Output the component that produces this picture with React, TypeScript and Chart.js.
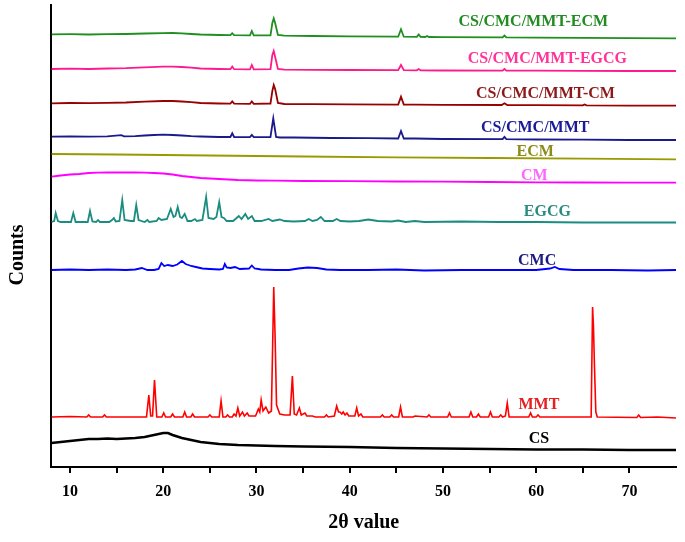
import React, { useEffect, useRef } from "react";
import { Chart, registerables } from "chart.js";

Chart.register(...registerables);

// 2θ range and tick labels
const xMin = 8;
const xMax = 75;
const xTicks = [10, 15, 20, 25, 30, 35, 40, 45, 50, 55, 60, 65, 70];
const xLabelled = [10, 20, 30, 40, 50, 60, 70];

const seriesNames = [
  "CS/CMC/MMT-ECM",
  "CS/CMC/MMT-EGCG",
  "CS/CMC/MMT-CM",
  "CS/CMC/MMT",
  "ECM",
  "CM",
  "EGCG",
  "CMC",
  "MMT",
  "CS",
];

// Stacked patterns (arbitrary counts, offset for display)
const ecmComposite: number[][] = [[8,432.7],[10,432.8],[12,432.5],[14,432.8],[16,433],[18,433.5],[20,433.8],[21,434],[22,433.7],[23,433],[24,432.5],[26,432],[27.2,431.8],[27.4,433.8],[27.6,431.8],[29.3,431.6],[29.5,436],[29.7,431.6],[31.5,431.6],[31.7,444],[31.85,448.7],[32.0,444],[32.3,432],[33,431.3],[36,431],[40,430.7],[45.2,430.3],[45.5,437.7],[45.8,430.3],[47.2,430.1],[47.4,432.5],[47.6,430.1],[48.1,430],[48.3,431],[48.5,430],[50,429.8],[56.4,429.6],[56.6,431.5],[56.8,429.6],[60,429.4],[65,429.2],[70,428.9],[75,428.7]];
const egcgComposite: number[][] = [[8,398],[10,398.3],[12,398],[14,398.5],[16,398.8],[18,399.7],[20,400.3],[21,400.3],[22,400],[23,399.3],[24,398.5],[26,398],[27.2,397.8],[27.4,400.5],[27.6,397.8],[29.3,397.7],[29.5,402],[29.7,397.7],[31.5,397.8],[31.7,412],[31.85,416],[32.0,410],[32.3,398],[33,397.3],[36,397.2],[40,397],[45.2,396.8],[45.5,402],[45.8,396.8],[47.2,396.7],[47.4,398],[47.6,396.7],[50,396.5],[56.4,396.4],[56.6,398],[56.8,396.4],[60,396.3],[65,396.2],[70,396],[75,396]];
const cmComposite: number[][] = [[8,363.7],[10,364],[12,363.8],[14,364.2],[16,364.5],[18,365.3],[20,366],[21,366],[22,365.5],[23,364.8],[24,364],[26,363.5],[27.2,363.3],[27.4,365.5],[27.6,363.3],[29.3,363.2],[29.5,365.5],[29.7,363.2],[31.5,363.5],[31.7,376],[31.85,382],[32.0,378],[32.3,364],[33,363],[36,362.8],[40,362.6],[45.2,362.4],[45.5,370.3],[45.8,362.4],[47,362.3],[50,362.2],[56.3,362],[56.6,363.8],[56.9,362],[60,361.8],[65,361.6],[65.2,362.6],[65.4,361.6],[70,361.4],[75,361.3]];
const csCmcMmt: number[][] = [[8,330.3],[10,330.5],[12,330.3],[14,330.6],[15.5,331.8],[15.8,330.6],[17,330.8],[18,331.5],[19,332],[20,332.3],[21,332],[22,331.5],[23,330.8],[24,330.5],[26,330],[27.2,330],[27.4,333.7],[27.6,330],[29.3,329.8],[29.5,332],[29.7,329.8],[31.5,330],[31.8,348.7],[32.1,330],[32.5,329.5],[34,329.5],[38,329],[42,328.8],[45.2,328.5],[45.5,336],[45.8,328.5],[47,328.5],[50,328],[56.4,327.8],[56.6,330],[56.8,327.8],[60,327.5],[65,327.3],[70,327],[75,327]];
const ecm: number[][] = [[8,313],[15,312.5],[25,311.5],[35,310.5],[45,309.7],[55,309],[65,308.3],[75,307.7]];
const cm: number[][] = [[8,290.3],[9,291.5],[10,292.5],[11,293],[12,294],[13,294.3],[14,294.5],[15,294.5],[16,294.7],[17,294.5],[18,294.3],[19,294],[20,293.5],[21,292.5],[22,291],[23,290],[24,289],[25,288.5],[26,288],[27,287.5],[28,287],[30,286.5],[32,286.3],[35,286],[40,285.8],[45,285.5],[50,285.3],[55,285],[60,284.7],[65,284.5],[70,284.3],[75,284.3]];
const egcg: number[][] = [[8,245],[8.3,246],[8.46,254],[8.7,246],[9,245],[10.1,245],[10.35,254],[10.6,245],[11.9,245],[12.14,256],[12.4,245.5],[12.8,245],[13.0,247],[13.2,245],[14.2,245],[14.5,247],[14.7,249],[14.9,245.5],[15.3,246],[15.6,267],[15.85,247],[16.5,246],[16.85,246],[17.1,262],[17.35,247],[18,245],[18.3,247],[18.5,245],[19.3,246],[19.5,249],[19.8,247],[20.4,248],[20.8,258],[21.1,250],[21.3,251],[21.55,260],[21.8,250],[22.0,249],[22.3,253],[22.6,246],[23,246],[23.4,248],[23.6,246],[24.2,247],[24.6,270],[24.85,249],[25.4,248],[25.7,250],[26.0,265],[26.25,250],[26.5,249],[26.8,246],[27.5,246],[28.1,251],[28.4,248],[28.8,253],[29.1,248],[29.5,251],[29.8,246],[30.5,246],[31.3,248],[31.7,246],[32.5,247.5],[33,246],[34,245.5],[35.2,246],[35.6,248],[36,246],[36.5,247],[36.9,250],[37.3,246],[38.2,246],[38.6,248],[39,246],[40,245.5],[41,246],[42,247.5],[43,246],[44.5,245.5],[45.2,246.5],[46,245],[47,246],[48,245],[52,245.5],[56,245],[60,245],[65,244.5],[70,244.5],[75,244.5]];
const cmc: number[][] = [[8,197],[10,197.5],[12,197],[14,197.5],[16,197],[17,197.5],[17.7,199],[18.3,197],[19,197],[19.5,198],[19.8,204],[20.1,201],[20.5,202],[21,201],[21.5,202.5],[22.0,206],[22.4,203],[23,201],[23.5,200],[24.2,198.5],[25,198],[26,197.5],[26.4,198],[26.6,203],[26.8,199.5],[27.2,199],[27.7,200],[28.2,198],[29.2,198.5],[29.5,201.5],[29.8,198.5],[30.5,197.5],[32,197],[33.5,197],[34.5,198.5],[35.5,199.5],[36.5,199],[37.5,197.5],[39,197],[42,197],[45,197.5],[48,196.5],[52,197],[56,197],[60,197],[61.5,198.5],[62,200],[62.5,198],[64,197],[68,197],[72,196.5],[75,197]];
const mmt: number[][] = [[8,50],[10,50.5],[11.8,50],[12,52],[12.2,50],[13.5,50],[13.7,52],[13.9,50],[18.2,50],[18.45,72],[18.65,51],[18.85,51],[19.06,87],[19.3,50],[19.85,50],[20.05,54],[20.25,50],[20.8,50],[21.0,53],[21.2,50],[22.1,50],[22.3,55],[22.5,50],[22.95,50],[23.15,53],[23.35,50],[24.8,50],[25,52],[25.2,50],[26.0,50],[26.2,66],[26.4,50],[26.7,50],[26.9,52],[27.1,50],[27.4,50],[27.6,53],[27.8,51],[28.0,59],[28.2,51],[28.5,55],[28.7,51],[29.0,54],[29.2,51],[29.9,51],[30.2,58],[30.35,55],[30.5,67],[30.7,56],[31.0,60],[31.3,54],[31.6,56],[31.85,180],[32.0,129],[32.15,62],[32.3,58],[32.5,53],[33.0,52],[33.6,52],[33.85,91],[34.05,53],[34.3,52],[34.6,59],[34.8,52],[35.2,54],[35.4,51],[36,51],[36.3,50],[37.3,50],[37.5,52],[37.7,50],[38.35,51],[38.6,61],[38.8,55],[38.95,55],[39.15,53],[39.3,55],[39.5,52],[39.7,54],[39.9,51],[40.55,51],[40.75,59],[40.95,51],[41.2,53],[41.4,50],[43.3,50],[43.5,52],[43.7,50],[44.3,50],[44.5,52],[44.7,50],[45.25,50],[45.45,60],[45.65,50],[46.8,50],[47,51],[48.3,50],[48.5,52],[48.7,50],[50.5,50],[50.7,54],[50.9,50],[52.8,50],[53,55],[53.2,50],[53.6,50],[53.8,53],[54,50],[54.9,50],[55.1,55],[55.3,50],[56,50],[56.2,52],[56.4,50],[56.7,51],[56.9,64],[57.1,50],[59.2,50],[59.4,54],[59.6,50],[60,50],[60.2,52],[60.4,50],[65.9,50],[66.05,160],[66.15,140],[66.25,102],[66.4,55],[66.55,50],[70.8,49.5],[71.0,52],[71.2,49.5],[73,50],[75,49]];
const cs: number[][] = [[8,24],[9,25],[10,26],[11,27],[12,28],[13,28],[14,28.5],[15,28],[16,28.5],[17,29],[18,30],[19,32],[20,34],[20.5,34],[21,32],[22,29],[23,27],[24,25],[25,24],[26,23],[28,22],[30,21.5],[32,21],[35,20.5],[40,20],[45,19],[50,18.5],[55,18],[60,17.5],[65,17.5],[70,17],[75,17]];

const seriesData = [ecmComposite, egcgComposite, cmComposite, csCmcMmt, ecm, cm, egcg, cmc, mmt, cs];

// styling
const lineColors = ["#1f8f1f", "#ff1a8c", "#990000", "#1a1a8c", "#999900", "#ff00ff", "#1a8c80", "#0000ff", "#ff0000", "#000000"];
const labelColors = ["#228b22", "#ff3399", "#8b1a1a", "#1a1a99", "#8c8c1a", "#ff66ff", "#2a8c80", "#1a1a80", "#e62020", "#000000"];
const lineWidths = [1.8, 1.8, 1.8, 1.8, 1.8, 1.8, 1.8, 1.8, 1.6, 2.6];
const labelAnchors = [
  [59.7, 445], [61.2, 408], [61.0, 373], [59.9, 339], [59.9, 315],
  [59.8, 291], [61.2, 255], [60.1, 206], [60.3, 62], [60.3, 28],
];

const FONT = "'Liberation Serif', 'Times New Roman', serif";

const labelPlugin = {
  id: "seriesLabels",
  afterDatasetsDraw(chart: any) {
    const { ctx, scales } = chart;
    ctx.save();
    ctx.font = `bold 16px ${FONT}`;
    ctx.textAlign = "center";
    ctx.textBaseline = "middle";
    seriesNames.forEach((name, i) => {
      const [lx, ly] = labelAnchors[i];
      ctx.fillStyle = labelColors[i];
      ctx.fillText(name, scales.x.getPixelForValue(lx), scales.y.getPixelForValue(ly));
    });
    // y axis title
    ctx.translate(18, 255);
    ctx.rotate(-Math.PI / 2);
    ctx.fillStyle = "#000";
    ctx.font = `bold 20px ${FONT}`;
    ctx.fillText("Counts", 0, 0);
    ctx.restore();
  },
};

export default function App() {
  const ref = useRef<HTMLCanvasElement>(null);
  useEffect(() => {
    if (!ref.current) return;
    const chart = new Chart(ref.current, {
      type: "line",
      data: {
        datasets: seriesNames.map((name, i) => ({
          label: name,
          data: seriesData[i].map(([x, y]) => ({ x, y })),
          borderColor: lineColors[i],
          borderWidth: lineWidths[i],
          pointRadius: 0,
          tension: 0,
          fill: false,
        })),
      },
      options: {
        animation: false,
        responsive: false,
        devicePixelRatio: 1,
        layout: { padding: { top: 5, right: 9, left: 0, bottom: 0 } },
        plugins: { legend: { display: false }, tooltip: { enabled: false } },
        scales: {
          x: {
            type: "linear",
            min: xMin,
            max: xMax,
            afterBuildTicks: (scale: any) => {
              scale.ticks = xTicks.map((v) => ({ value: v }));
            },
            afterFit: (scale: any) => {
              scale.height = 75;
            },
            ticks: {
              autoSkip: false,
              maxRotation: 0,
              color: "#000",
              padding: 9,
              font: { family: FONT, size: 16, weight: "bold" },
              callback: (v: any) => (xLabelled.includes(Number(v)) ? String(v) : ""),
            },
            grid: { drawOnChartArea: false, color: "#000", lineWidth: 2, tickLength: 6 },
            border: { color: "#000", width: 2 },
            title: {
              display: true,
              text: "2θ value",
              color: "#000",
              font: { family: FONT, size: 20, weight: "bold" },
              padding: { top: 0, bottom: 7 },
            },
          },
          y: {
            type: "linear",
            min: 0,
            max: 462,
            afterFit: (scale: any) => {
              scale.width = 51.4;
            },
            ticks: { display: false },
            grid: { drawOnChartArea: false, drawTicks: false },
            border: { color: "#000", width: 2 },
            title: { display: false },
          },
        },
      },
      plugins: [labelPlugin],
    });
    return () => chart.destroy();
  }, []);
  return (
    <div style={{ position: "absolute", left: 0, top: 0, width: 685, height: 542 }}>
      <canvas ref={ref} width={685} height={542} style={{ width: 685, height: 542 }} />
    </div>
  );
}
